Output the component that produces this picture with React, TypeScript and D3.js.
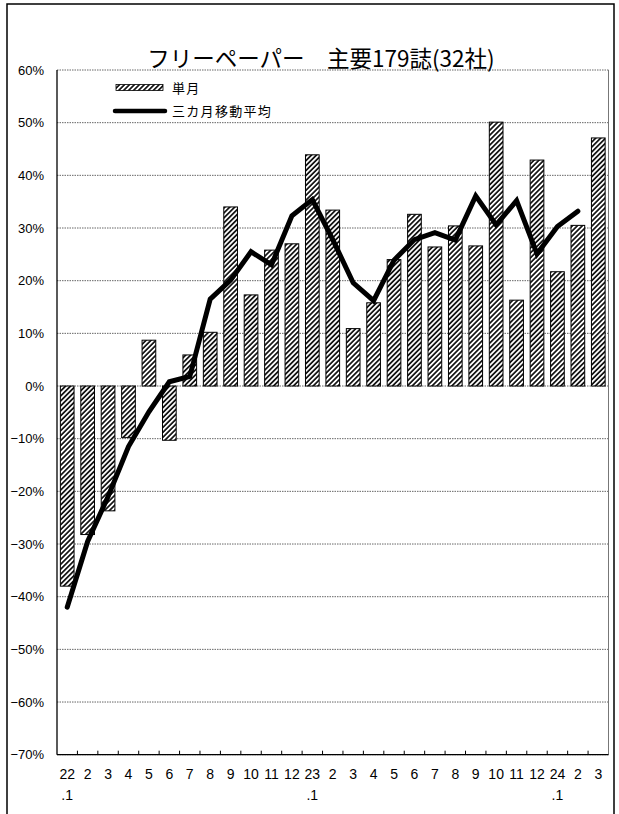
import React, { useEffect, useRef } from 'react';
import * as d3 from 'd3';

// month labels (top row) and year marks (second row)
const months = ['22', '2', '3', '4', '5', '6', '7', '8', '9', '10', '11', '12', '23', '2', '3', '4', '5', '6', '7', '8', '9', '10', '11', '12', '24', '2', '3'];
const yearMarks = ['.1', '', '', '', '', '', '', '', '', '', '', '', '.1', '', '', '', '', '', '', '', '', '', '', '', '.1', '', ''];

// 単月 (%)
const monthly = [-38.0, -28.2, -23.7, -9.8, 8.7, -10.3, 5.9, 10.2, 34.0, 17.3, 25.8, 27.0, 43.9, 33.4, 10.9, 15.8, 24.0, 32.6, 26.4, 30.4, 26.6, 50.1, 16.3, 42.9, 21.7, 30.5, 47.1];
// 三カ月移動平均 (%), no value for the last month
const movingAvg = [-42.0, -29.5, -21.0, -11.5, -4.9, 0.8, 1.8, 16.5, 20.1, 25.5, 23.0, 32.3, 35.4, 27.8, 19.6, 16.2, 23.9, 27.8, 29.1, 27.7, 36.1, 30.6, 35.2, 25.1, 30.3, 33.2, null];

const yTicks = [60, 50, 40, 30, 20, 10, 0, -10, -20, -30, -40, -50, -60, -70];

const W = 619;
const H = 814;

const App: React.FC = () => {
  const ref = useRef<SVGSVGElement>(null);

  useEffect(() => {
    if (!ref.current) return;
    const svg = d3.select(ref.current);
    svg.selectAll('*').remove();

    const left = 57, right = 608.5, top = 70, bottom = 754.7;
    const numFont = '"Liberation Sans Narrow", "Liberation Sans", Arial, sans-serif';
    const jpFont = '"Noto Sans CJK JP", sans-serif';

    const defs = svg.append('defs');
    const pat = defs.append('pattern')
      .attr('id', 'hatch')
      .attr('patternUnits', 'userSpaceOnUse')
      .attr('width', 3.5)
      .attr('height', 3.5)
      .attr('patternTransform', 'rotate(45)');
    pat.append('rect').attr('width', 3.5).attr('height', 3.5).attr('fill', '#fff');
    pat.append('line')
      .attr('x1', 0.9).attr('y1', 0).attr('x2', 0.9).attr('y2', 3.5)
      .attr('stroke', '#000').attr('stroke-width', 1.6);

    svg.append('rect').attr('width', W).attr('height', H).attr('fill', '#fff');

    // outer frame
    svg.append('rect')
      .attr('x', 7).attr('y', 4)
      .attr('width', 607).attr('height', H + 20)
      .attr('fill', 'none').attr('stroke', '#000').attr('stroke-width', 1.5);

    const x = d3.scaleBand<number>()
      .domain(d3.range(months.length))
      .range([left, right])
      .paddingInner(0.33)
      .paddingOuter(0.165);

    const y = d3.scaleLinear().domain([-70, 60]).range([bottom, top]);

    // gridlines
    svg.append('g')
      .selectAll('line')
      .data(yTicks)
      .join('line')
      .attr('x1', left).attr('x2', right)
      .attr('y1', d => y(d)).attr('y2', d => y(d))
      .attr('stroke', '#666').attr('stroke-width', 1)
      .attr('stroke-dasharray', '1.5,1');

    // right plot border
    svg.append('line')
      .attr('x1', right).attr('x2', right).attr('y1', top).attr('y2', bottom)
      .attr('stroke', '#777').attr('stroke-width', 1);

    // bars
    svg.append('g')
      .selectAll('rect')
      .data(monthly)
      .join('rect')
      .attr('x', (d, i) => x(i)!)
      .attr('width', x.bandwidth())
      .attr('y', d => y(Math.max(0, d)))
      .attr('height', d => Math.abs(y(d) - y(0)))
      .attr('fill', 'url(#hatch)')
      .attr('stroke', '#000')
      .attr('stroke-width', 1);

    // moving average line
    const line = d3.line<number | null>()
      .defined(d => d !== null)
      .x((d, i) => x(i)! + x.bandwidth() / 2)
      .y(d => y(d as number));

    svg.append('path')
      .datum(movingAvg)
      .attr('d', line)
      .attr('fill', 'none')
      .attr('stroke', '#000')
      .attr('stroke-width', 5)
      .attr('stroke-linejoin', 'miter')
      .attr('stroke-linecap', 'round');

    // axes lines
    svg.append('line')
      .attr('x1', left).attr('x2', left).attr('y1', top).attr('y2', bottom)
      .attr('stroke', '#000').attr('stroke-width', 1.3);
    svg.append('line')
      .attr('x1', left).attr('x2', right).attr('y1', bottom).attr('y2', bottom)
      .attr('stroke', '#000').attr('stroke-width', 1.3);

    // x tick marks (inside, at category boundaries)
    const step = x.step();
    svg.append('g')
      .selectAll('line')
      .data(d3.range(1, months.length))
      .join('line')
      .attr('x1', i => left + i * step).attr('x2', i => left + i * step)
      .attr('y1', bottom).attr('y2', bottom - 4)
      .attr('stroke', '#000').attr('stroke-width', 1);

    // y tick labels
    svg.append('g')
      .selectAll('text')
      .data(yTicks)
      .join('text')
      .attr('x', 44)
      .attr('y', d => y(d))
      .attr('dy', '0.35em')
      .attr('text-anchor', 'end')
      .attr('font-family', numFont)
      .attr('font-size', 13)
      .text(d => (d < 0 ? '\u2212' + Math.abs(d) : d) + '%');

    // x tick labels
    svg.append('g')
      .selectAll('text')
      .data(months)
      .join('text')
      .attr('x', (d, i) => x(i)! + x.bandwidth() / 2)
      .attr('y', 779)
      .attr('text-anchor', 'middle')
      .attr('font-family', numFont)
      .attr('font-size', 14)
      .text(d => d);

    svg.append('g')
      .selectAll('text')
      .data(yearMarks)
      .join('text')
      .attr('x', (d, i) => x(i)! + x.bandwidth() / 2)
      .attr('y', 800)
      .attr('text-anchor', 'middle')
      .attr('font-family', numFont)
      .attr('font-size', 14)
      .text(d => d);

    // title
    svg.append('text')
      .attr('x', 321)
      .attr('y', 67)
      .attr('text-anchor', 'middle')
      .attr('font-family', jpFont)
      .attr('font-size', 22.5)
      .text('フリーペーパー　主要179誌(32社)');

    // legend
    const lg = svg.append('g');
    lg.append('rect')
      .attr('x', 116).attr('y', 84.5).attr('width', 47).attr('height', 6)
      .attr('fill', 'url(#hatch)').attr('stroke', '#000').attr('stroke-width', 0.8);
    lg.append('text')
      .attr('x', 172).attr('y', 88).attr('dy', '0.35em')
      .attr('font-family', jpFont).attr('font-size', 13)
      .attr('letter-spacing', 1.3)
      .text('単月');
    lg.append('line')
      .attr('x1', 115).attr('x2', 165).attr('y1', 111).attr('y2', 111)
      .attr('stroke', '#000').attr('stroke-width', 4.5).attr('stroke-linecap', 'round');
    lg.append('text')
      .attr('x', 172).attr('y', 111).attr('dy', '0.35em')
      .attr('font-family', jpFont).attr('font-size', 13)
      .attr('letter-spacing', 1.3)
      .text('三カ月移動平均');
  }, []);

  return (
    <div style={{ position: 'absolute', left: 0, top: 0 }}>
      <svg ref={ref} width={W} height={H} style={{ display: 'block' }} />
    </div>
  );
};

export default App;
